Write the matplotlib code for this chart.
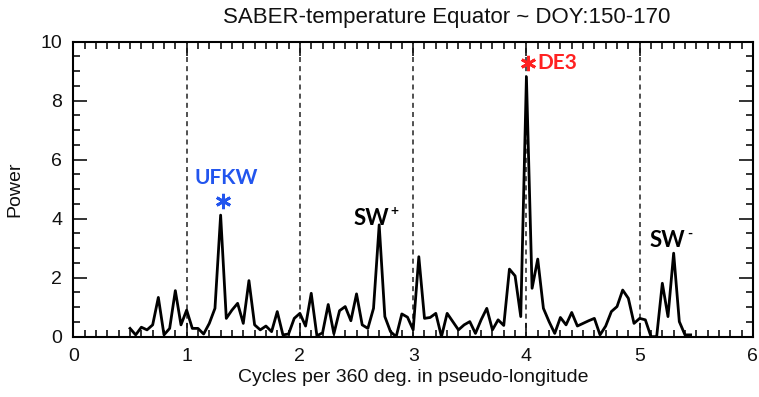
import matplotlib
matplotlib.use("Agg")
import matplotlib.pyplot as plt
import numpy as np

# frequencia (ciclos por 360 graus) e potencia
cycles = [0.50, 0.55, 0.60, 0.65, 0.70, 0.75, 0.80, 0.85, 0.90, 0.95,
          1.00, 1.05, 1.10, 1.15, 1.20, 1.25, 1.30, 1.35, 1.40, 1.45,
          1.50, 1.55, 1.60, 1.65, 1.70, 1.75, 1.80, 1.85, 1.90, 1.95,
          2.00, 2.05, 2.10, 2.15, 2.20, 2.25, 2.30, 2.35, 2.40, 2.45,
          2.50, 2.55, 2.60, 2.65, 2.70, 2.75, 2.80, 2.85, 2.90, 2.95,
          3.00, 3.05, 3.10, 3.15, 3.20, 3.25, 3.30, 3.35, 3.40, 3.45,
          3.50, 3.55, 3.60, 3.65, 3.70, 3.75, 3.80, 3.85, 3.90, 3.95,
          4.00, 4.05, 4.10, 4.15, 4.20, 4.25, 4.30, 4.35, 4.40, 4.45,
          4.50, 4.55, 4.60, 4.65, 4.70, 4.75, 4.80, 4.85, 4.90, 4.95,
          5.00, 5.05, 5.10, 5.15, 5.20, 5.25, 5.30, 5.35, 5.40, 5.45]
power = [0.28, 0.06, 0.32, 0.23, 0.40, 1.33, 0.06, 0.28, 1.56, 0.40,
         0.90, 0.28, 0.28, 0.09, 0.45, 0.96, 4.12, 0.62, 0.90, 1.13,
         0.45, 1.90, 0.40, 0.23, 0.36, 0.17, 0.85, 0.06, 0.09, 0.62,
         0.79, 0.36, 1.47, 0.03, 0.13, 1.09, 0.10, 0.88, 1.02, 0.54,
         1.45, 0.40, 0.28, 0.96, 3.79, 0.68, 0.17, 0.00, 0.77, 0.66,
         0.23, 2.71, 0.62, 0.65, 0.79, 0.00, 0.79, 0.51, 0.23, 0.40,
         0.51, 0.11, 0.57, 0.96, 0.23, 0.57, 0.38, 2.29, 2.06, 0.68,
         8.81, 1.64, 2.63, 0.96, 0.51, 0.11, 0.65, 0.40, 0.82, 0.36,
         0.45, 0.54, 0.62, 0.06, 0.36, 0.85, 1.02, 1.58, 1.30, 0.45,
         0.62, 0.57, 0.00, 0.00, 1.81, 0.68, 2.83, 0.51, 0.06, 0.06]

# linhas verticais tracejadas
vlines = [1, 2, 3, 4, 5]
xticks = [0, 1, 2, 3, 4, 5, 6]
yticks = [0, 2, 4, 6, 8, 10]

plt.rcParams['font.family'] = ['Liberation Sans', 'DejaVu Sans']

fig = plt.figure(figsize=(7.59, 3.97), dpi=100)
ax = fig.add_axes([0.0967, 0.152, 0.8953, 0.743])

for xv in vlines:
    ax.axvline(xv, color='#333333', lw=1.2, ls=(0, (3, 2.5)), zorder=1)

ax.plot(cycles, power, color='black', lw=2.0, zorder=3)

ax.set_xlim(0, 6)
ax.set_ylim(0, 10)
ax.set_xticks(xticks)
ax.set_yticks(yticks)
ax.set_xticks(np.arange(0, 6.01, 0.1), minor=True)
ax.set_yticks(np.arange(0, 10.01, 0.5), minor=True)
ax.tick_params(which='both', direction='in', top=True, right=True,
               labelsize=14, width=1.2, colors='#111111')
ax.tick_params(which='major', length=10, pad=8)
ax.tick_params(which='minor', length=5)
for s in ax.spines.values():
    s.set_linewidth(1.5)

ax.set_xlabel("Cycles per 360 deg. in pseudo-longitude", fontsize=14, labelpad=3, color='#111111')
ax.set_ylabel("Power", fontsize=14, labelpad=12, color='#111111')
fig.text(0.588, 0.955, "SABER-temperature Equator ~ DOY:150-170",
         fontsize=16, ha='center', va='center', color='#111111')

# anotacoes das ondas
blue = '#2255EE'
red = '#FF2222'
lab = dict(family=['Lato', 'DejaVu Sans'], fontweight='bold')
ax.text(1.35, 5.37, "UFKW", color=blue, fontsize=15, ha='center', va='center', **lab)
ax.plot([1.32], [4.59], marker=(6, 2, 0), ms=11, mew=2.0, color=blue, zorder=4)
ax.plot([4.01], [9.28], marker=(6, 2, 0), ms=11, mew=2.0, color=red, zorder=4)
ax.text(4.10, 9.28, "DE3", color=red, fontsize=15, ha='left', va='center', **lab)
ax.text(2.47, 4.0, "SW", color='black', fontsize=16, ha='left', va='center', **lab)
ax.text(2.80, 4.25, "+", color='black', fontsize=10, ha='left', va='center', **lab)
ax.text(5.09, 3.25, "SW", color='black', fontsize=16, ha='left', va='center', **lab)
ax.text(5.42, 3.50, "-", color='black', fontsize=10, ha='left', va='center', **lab)

fig.savefig("out.png", dpi=100)
